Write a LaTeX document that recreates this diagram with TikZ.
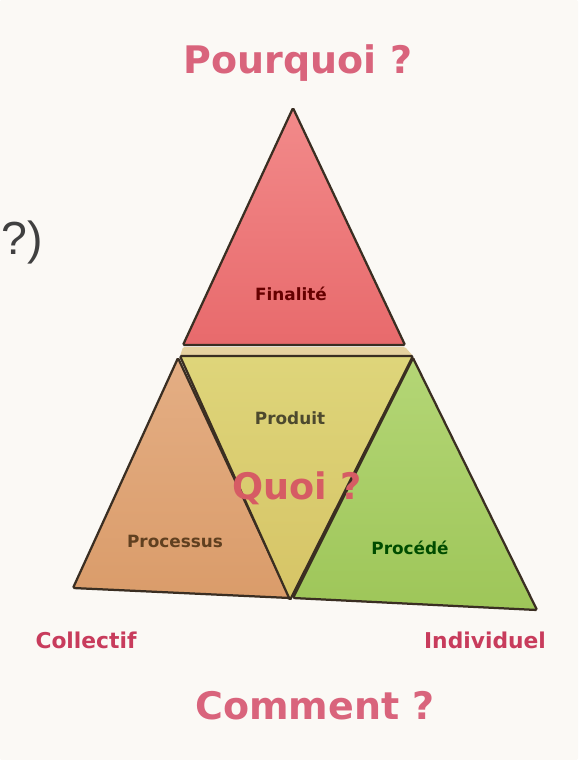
\documentclass[tikz,border=0pt]{standalone}
\usepackage{fontspec}
\setmainfont{DejaVu Sans}
\newfontfamily\slidefont{Liberation Sans}
\usepackage{tikz}

\definecolor{paper}{HTML}{FBF9F5}
\definecolor{rosetext}{HTML}{D9647C}
\definecolor{crimson}{HTML}{C83C5C}
\definecolor{quoitext}{HTML}{D65C64}
\definecolor{edge}{HTML}{3A2E22}
\definecolor{redtop}{HTML}{F28A8A}
\definecolor{redbot}{HTML}{E86A6C}
\definecolor{rim}{HTML}{E6D2A0}
\definecolor{tantop}{HTML}{E4AE84}
\definecolor{tanbot}{HTML}{DA9C6A}
\definecolor{khakitop}{HTML}{DED57A}
\definecolor{khakibot}{HTML}{D6C466}
\definecolor{leaftop}{HTML}{B4D676}
\definecolor{leafbot}{HTML}{9EC659}

\begin{document}
\begin{tikzpicture}[x=0.025cm,y=-0.025cm,rounded corners=1,
  face/.style={draw=edge,line width=1.6pt},
  big/.style={font=\fontsize{27}{30}\selectfont\bfseries,text=rosetext},
  side/.style={font=\fontsize{15.5}{18}\selectfont\bfseries,text=crimson},
  tag/.style={font=\fontsize{12}{14}\selectfont\bfseries}]
  \fill[paper] (0,0) rectangle (578,760);
  \useasboundingbox (0,0) rectangle (578,760);
  %\draw (0,0) rectangle (578,760);
  \draw[face,top color=redtop,bottom color=redbot] (183,345) -- (293,108) -- (405,345) -- cycle;
  \fill[rim] (183,347) -- (405,347) -- (413,356) -- (180,356) -- cycle;
  \draw[face,top color=tantop,bottom color=tanbot] (73,588) -- (178,358) -- (290,598) -- cycle;
  \draw[face,top color=leaftop,bottom color=leafbot] (293,598) -- (413,358) -- (537,610) -- cycle;
  \draw[face,top color=khakitop,bottom color=khakibot] (180,356) -- (413,356) -- (290,600) -- cycle;
  \node[font=\slidefont\fontsize{33}{36}\selectfont,text=black!75,anchor=west] (aside) at (-3,242) {?)};
  \node[big] (pourquoi) at (298,63) {Pourquoi ?};
  \node[tag,text=red!40!black] (finalite) at (291,294) {Finalité};
  \node[tag,text=olive!40!black] (produit) at (290,418) {Produit};
  \node[big,font=\fontsize{26}{30}\selectfont\bfseries,text=quoitext] (quoi) at (297,488) {Quoi ?};
  \node[tag,text=brown!50!black] (processus) at (175,541) {Processus};
  \node[tag,text=green!30!black] (procede) at (410,548) {Procédé};
  \node[side] (collectif) at (86,640) {Collectif};
  \node[side] (individuel) at (485,640) {Individuel};
  \node[big] (comment) at (315,706) {Comment ?};
\end{tikzpicture}
\end{document}
